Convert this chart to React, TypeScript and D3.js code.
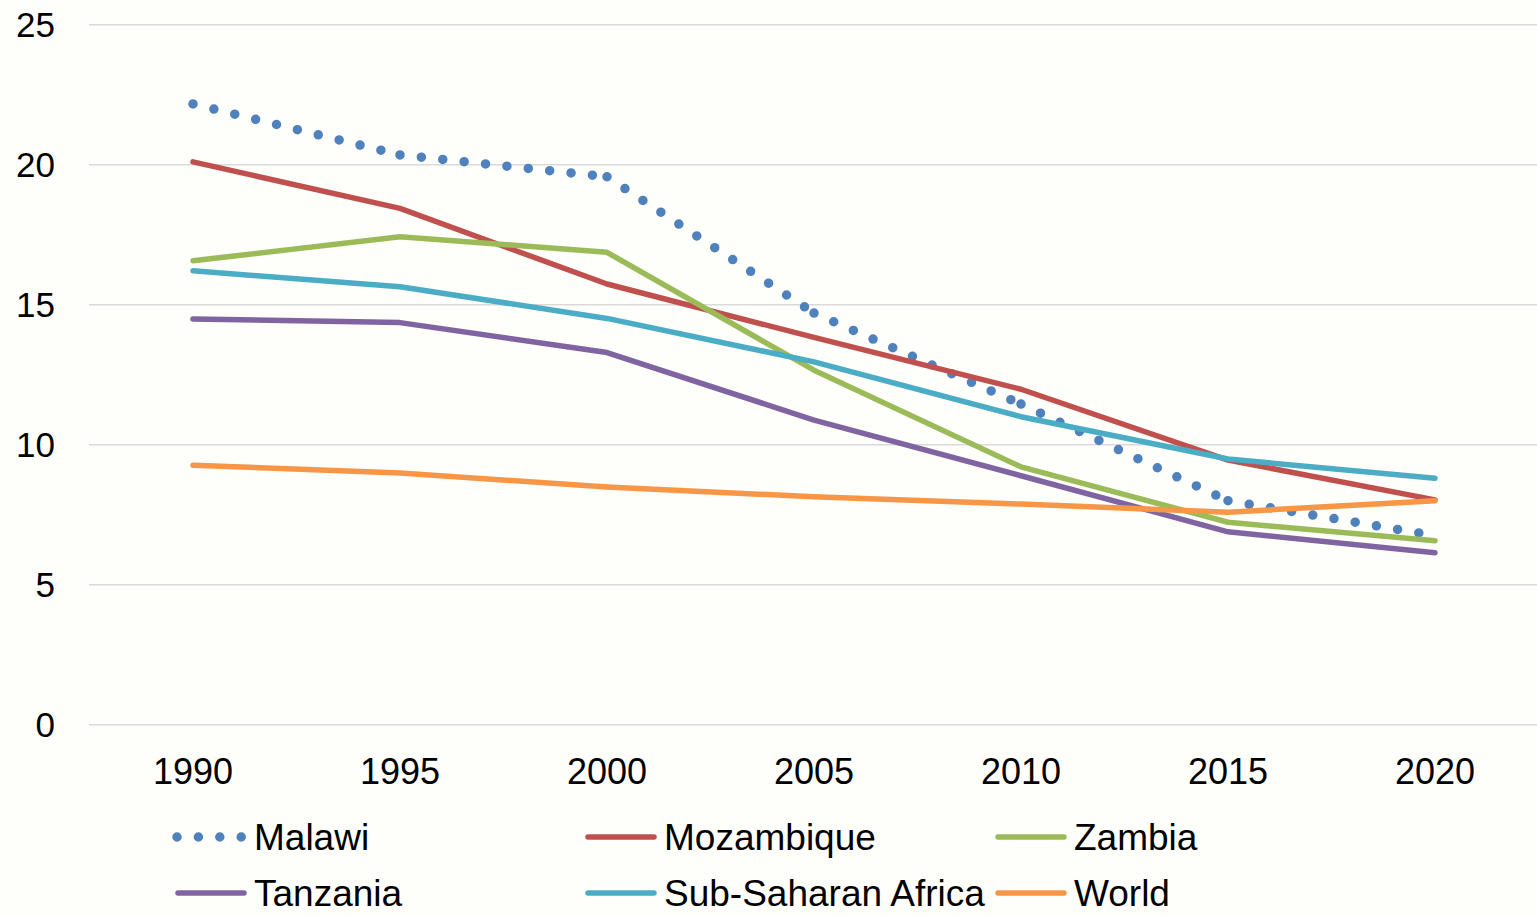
import React from "react";
import * as d3 from "d3";

const years = ["1990", "1995", "2000", "2005", "2010", "2015", "2020"];
const yTicks = [0, 5, 10, 15, 20, 25];

const malawi = [22.17, 20.35, 19.57, 14.7, 11.45, 8.0, 6.75];
const mozambique = [20.1, 18.44, 15.74, 13.83, 11.98, 9.45, 8.03];
const zambia = [16.57, 17.43, 16.87, 12.66, 9.21, 7.23, 6.57];
const tanzania = [14.49, 14.36, 13.29, 10.88, 8.89, 6.89, 6.14];
const ssa = [16.21, 15.64, 14.51, 12.96, 11.0, 9.49, 8.8];
const world = [9.27, 8.99, 8.49, 8.14, 7.88, 7.59, 8.0];

const seriesNames = ["Malawi", "Mozambique", "Zambia", "Tanzania", "Sub-Saharan Africa", "World"];
const seriesValues = [malawi, mozambique, zambia, tanzania, ssa, world];
const seriesColors = ["#4F81BD", "#C0504D", "#9BBB59", "#8064A2", "#4BACC6", "#F79646"];

const W = 1537;
const H = 916;
const FONT = "'Liberation Sans', Arial, sans-serif";

export default function App() {
  const x = d3.scalePoint<string>().domain(years).range([89.5, 1538.5]).padding(0.5);
  const y = d3.scaleLinear().domain([0, 25]).range([724.7, 24.7]);
  const line = d3
    .line<number>()
    .x((_, i) => x(years[i]) as number)
    .y((d) => y(d));
  const seg = d3
    .line<[string, number]>()
    .x((d) => x(d[0]) as number)
    .y((d) => y(d[1]));

  const dotW = 9.5;
  const dotGap = 21.5;

  const legendCols = [175, 585, 995];
  const legendRows = [837, 893];

  return (
    <svg
      width={W}
      height={H}
      style={{ position: "absolute", left: 0, top: 0, display: "block", background: "#fefefb" }}
    >
      <rect x={0} y={0} width={W} height={H} fill="#fefefb" />
      {yTicks.map((t) => (
        <g key={t}>
          <line x1={89} x2={W} y1={y(t)} y2={y(t)} stroke="#d9d9d9" strokeWidth={1.6} />
          <text x={55} y={y(t) + 12} textAnchor="end" fontFamily={FONT} fontSize={35} fill="#000">
            {t}
          </text>
        </g>
      ))}
      {years.map((yr) => (
        <text
          key={yr}
          x={x(yr) as number}
          y={784}
          textAnchor="middle"
          fontFamily={FONT}
          fontSize={36}
          fill="#000"
        >
          {yr}
        </text>
      ))}
      <g>
        {malawi.slice(0, -1).map((v, i) => (
          <path
            key={i}
            d={
              seg([
                [years[i], v],
                [years[i + 1], malawi[i + 1]],
              ]) || ""
            }
            fill="none"
            stroke={seriesColors[0]}
            strokeWidth={dotW}
            strokeLinecap="round"
            strokeDasharray={`0 ${dotGap}`}
          />
        ))}
      </g>
      {seriesValues.map((vals, si) =>
        si === 0 ? null : (
          <path
            key={si}
            d={line(vals) || ""}
            fill="none"
            stroke={seriesColors[si]}
            strokeWidth={5.5}
            strokeLinejoin="round"
            strokeLinecap="round"
          />
        )
      )}
      {seriesNames.map((name, si) => {
        const col = si % 3;
        const row = Math.floor(si / 3);
        const lx = legendCols[col];
        const ly = legendRows[row];
        return (
          <g key={name}>
            {si === 0 ? (
              <line
                x1={lx + 2}
                x2={lx + 70}
                y1={ly}
                y2={ly}
                stroke={seriesColors[si]}
                strokeWidth={dotW}
                strokeLinecap="round"
                strokeDasharray={`0 21.4`}
              />
            ) : (
              <line
                x1={lx + 3}
                x2={lx + 69}
                y1={ly}
                y2={ly}
                stroke={seriesColors[si]}
                strokeWidth={5.5}
                strokeLinecap="round"
              />
            )}
            <text x={lx + 79} y={ly + 13} fontFamily={FONT} fontSize={37} fill="#000">
              {name}
            </text>
          </g>
        );
      })}
    </svg>
  );
}
